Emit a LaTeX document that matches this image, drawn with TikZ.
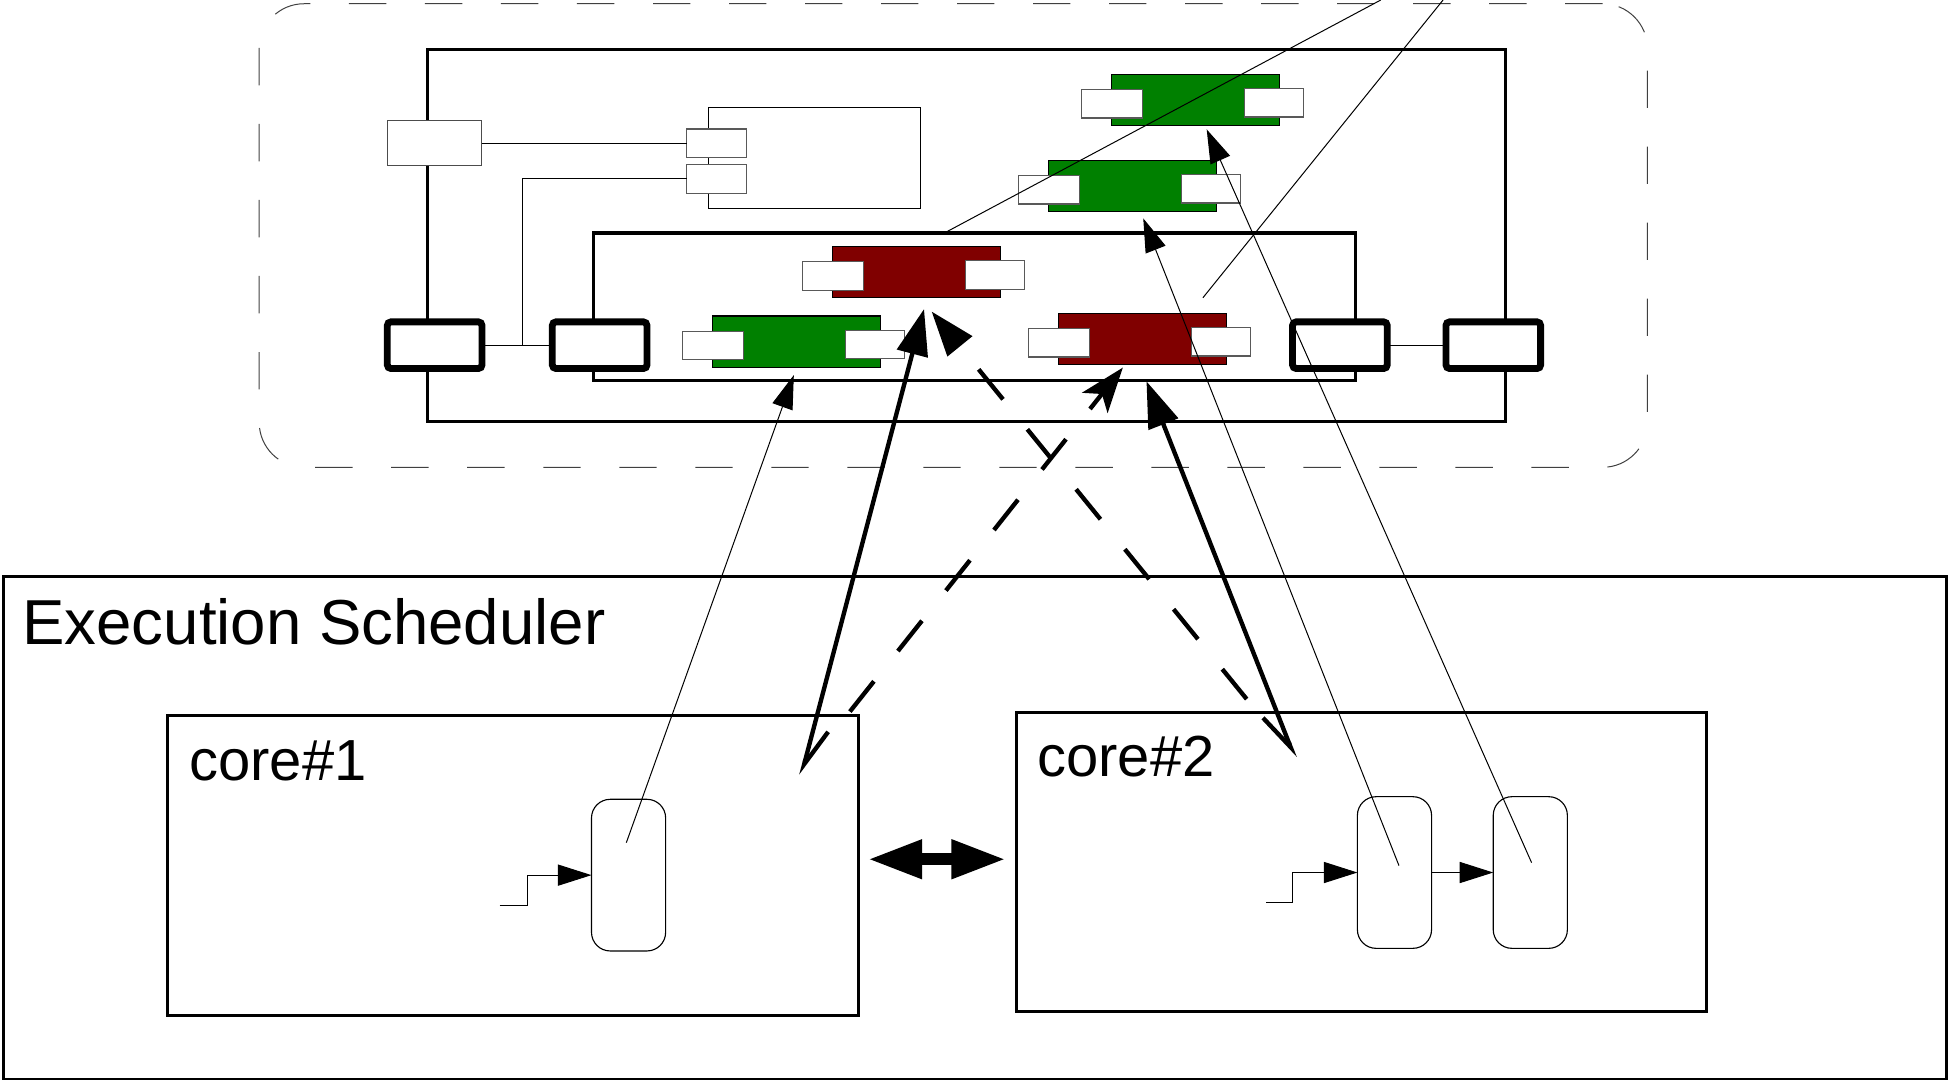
\documentclass[tikz,border=0pt]{standalone}
\usepackage{fontspec}
\setmainfont{Liberation Sans}
\usetikzlibrary{arrows.meta}

\definecolor{blockgreen}{RGB}{0,128,0}
\definecolor{blockred}{RGB}{128,0,0}

\tikzset{
  plain/.style={inner sep=0pt, outer sep=0pt},
  frame/.style={plain, draw=black, line width=2.5pt},
  corebox/.style={plain, draw=black, line width=2.4pt},
  thickport/.style={plain, draw=black, fill=white, line width=5.5pt, rounded corners=3pt,
    minimum width=76pt, minimum height=37.5pt},
  smallport/.style={plain, draw=black!65, fill=white, line width=0.9pt, minimum height=23pt},
  body/.style={plain, draw=black, line width=0.9pt, minimum width=134.7pt, minimum height=41pt},
  task/.style={plain, draw=black, line width=0.9pt, rounded corners=15pt,
    minimum width=59.5pt, minimum height=121.7pt},
  thinline/.style={draw=black, line width=0.8pt},
  thinarrow/.style={thinline, -{Triangle[length=27pt,width=17pt]}},
  boldline/.style={draw=black, line width=3.5pt},
  bolddash/.style={boldline, dash pattern=on 31pt off 31pt},
  label/.style={plain, anchor=base west},
}

% a coloured block with an input port on its left and an output port on its right
\newcommand\swblock[4]{%
  \node[body, fill=#4] (#1) at ({#2+67.35},{#3+20.5}) {};
  \node[smallport, minimum width=49pt] (#1l) at ({#2+0.1},{#3+23.6}) {};
  \node[smallport, minimum width=47.5pt] (#1r) at ({#2+130.35},{#3+22.8}) {};
}

\begin{document}
\begin{tikzpicture}[x=1pt, y=-1pt]
\useasboundingbox (0,0) rectangle (1568,867);

% software component package
\node[plain, draw=black!75, line width=0.8pt, dash pattern=on 30pt off 31pt,
  rounded corners=36pt, minimum width=1114pt, minimum height=372pt] (lib) at (765,189) {};
\node[frame, minimum width=865pt, minimum height=298pt] (comp) at (775.5,189) {};
\node[frame, minimum width=612pt, minimum height=118pt] (sub) at (782,246) {};

% external element and helper component
\node[plain, draw=black!70, fill=white, line width=0.9pt, minimum width=75.5pt, minimum height=36pt] (ext) at (348.8,115) {};
\node[plain, draw=black, line width=0.9pt, minimum width=170pt, minimum height=81pt] (helper) at (653.6,126.6) {};
\node[smallport, minimum width=48.3pt] (hp1) at (575.2,115) {};
\node[smallport, minimum width=48.3pt] (hp2) at (575.2,143.5) {};

% delegation ports
\node[thickport] (p1) at (348.8,277) {};
\node[thickport] (p2) at (481.2,277) {};
\node[thickport] (p3) at (1075.2,277) {};
\node[thickport] (p4) at (1198.3,277) {};

% runnable blocks
\swblock{ga}{892}{59.6}{blockgreen}
\swblock{gb}{841.5}{128.6}{blockgreen}
\swblock{ra}{668.2}{197.9}{blockred}
\swblock{gc}{572}{253.6}{blockgreen}
\swblock{rb}{849.4}{251.4}{blockred}

% scheduler and cores
\node[plain, draw=black, line width=2pt, minimum width=1559pt, minimum height=403.3pt] (sched) at (782.45,664.35) {};
\node[label, font=\fontsize{51}{60}\selectfont] (schedlabel) at (18,517) {Execution Scheduler};
\node[corebox, minimum width=554.8pt, minimum height=240pt] (core1) at (411.7,694.5) {};
\node[corebox, minimum width=553.2pt, minimum height=239.9pt] (core2) at (1092.4,691.85) {};
\node[label, font=\fontsize{46.5}{55}\selectfont] (core1label) at (152,626) {core\#1};
\node[label, font=\fontsize{46.5}{55}\selectfont] (core2label) at (832.5,623.2) {core\#2};

% tasks
\node[task] (t1) at (504.4,702.25) {};
\node[task] (t2a) at (1119,700.15) {};
\node[task] (t2b) at (1228,700.15) {};

% free ends of connectors
\coordinate (in1) at (401,727);
\coordinate (in2) at (1016,724);
\coordinate (jn) at (419.2,277);
\coordinate (t1m) at (502.6,676.2);
\coordinate (t2am) at (1122.6,694.6);
\coordinate (t2bm) at (1229,692.2);
\coordinate (gcin) at (637,301);
\coordinate (gbin) at (917.4,175.2);
\coordinate (gain) at (968.3,103.8);
\coordinate (subtop) at (757.4,187.2);
\coordinate (subin) at (965.3,238.9);
\coordinate (outa) at (1108,0);
\coordinate (outb) at (1158,0);
\coordinate (s1b) at (643,622);
\coordinate (s1t) at (741.5,248);
\coordinate (s2t) at (920,306);
\coordinate (s2b) at (1039,608);
\coordinate (d1s) at (682,571);
\coordinate (d1t) at (901,295);
\coordinate (d2s) at (1000.4,561);
\coordinate (d2t) at (747.6,250);
\coordinate (lk1) at (696,689.5);
\coordinate (lk2) at (807.5,689.5);

% wiring inside the component
\draw[thinline] (ext.east) -- (hp1.west);
\draw[thinline] (hp2.west) -| (jn);
\draw[thinline] (p1.east) -- (p2.west);
\draw[thinline] (p3.east) -- (p4.west);
\draw[thinline] (subtop) -- (outa);
\draw[thinline] (subin) -- (outb);

% task activation inside the cores
\draw[thinarrow] (in1) -- ++(22,0) |- (t1.west);
\draw[thinarrow] (in2) -- ++(21.5,0) |- (t2a.west);
\draw[thinarrow] (t2a.east) -- (t2b.west);

% task to runnable mapping
\draw[thinarrow] (t1m) -- (gcin);
\draw[thinarrow] (t2am) -- (gbin);
\draw[thinarrow] (t2bm) -- (gain);

% communication between cores and runnables
\draw[boldline, {Triangle[length=37pt,width=25pt]}-{Straight Barb[harpoon,length=30pt,width=24pt]}] (s1t) -- (s1b);
\draw[boldline, {Triangle[length=37pt,width=25pt]}-{Straight Barb[harpoon,swap,length=30pt,width=24pt]}] (s2t) -- (s2b);
\draw[bolddash, -{Stealth[length=36pt,width=26pt,inset=9pt]}] (d1s) -- (d1t);
\draw[bolddash, -{Triangle[length=36pt,width=25pt]}] (d2s) -- (d2t);

% inter-core link
\draw[draw=black, line width=10pt, {Triangle[length=44pt,width=29pt]}-{Triangle[length=44pt,width=29pt]}] (lk1) -- (lk2);
\end{tikzpicture}
\end{document}
